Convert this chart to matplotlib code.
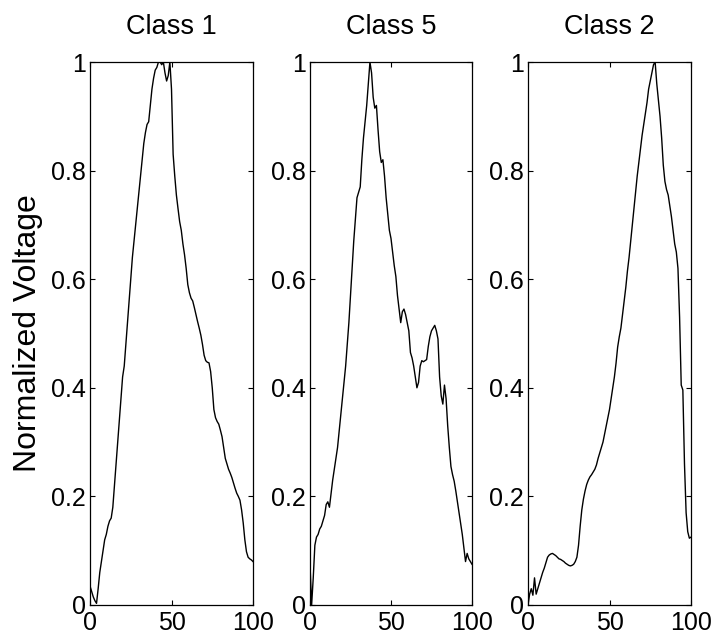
import matplotlib
matplotlib.use("Agg")
import matplotlib.pyplot as plt
from matplotlib import font_manager

# ---------------- data ----------------
x_idx = list(range(0, 101))

class1 = [0.035, 0.025, 0.015, 0.008, 0.003, 0.03, 0.06, 0.08, 0.10, 0.12,
          0.13, 0.145, 0.155, 0.16, 0.18, 0.22, 0.26, 0.30, 0.34, 0.38,
          0.42, 0.44, 0.48, 0.52, 0.56, 0.60, 0.64, 0.67, 0.70, 0.73,
          0.76, 0.79, 0.82, 0.85, 0.87, 0.885, 0.89, 0.92, 0.95, 0.97,
          0.985, 0.99, 1.0, 1.0, 0.995, 1.0, 0.98, 0.965, 0.975, 1.0,
          0.95, 0.83, 0.79, 0.755, 0.73, 0.706, 0.69, 0.665, 0.645, 0.62,
          0.59, 0.575, 0.565, 0.56, 0.548, 0.535, 0.522, 0.51, 0.497, 0.48,
          0.46, 0.45, 0.447, 0.446, 0.43, 0.40, 0.36, 0.345, 0.338, 0.333,
          0.322, 0.31, 0.29, 0.27, 0.26, 0.25, 0.243, 0.235, 0.225, 0.215,
          0.206, 0.20, 0.193, 0.175, 0.151, 0.12, 0.098, 0.088, 0.085, 0.083,
          0.08]

class5 = [0.075, 0.0, 0.05, 0.11, 0.125, 0.13, 0.14, 0.145, 0.155, 0.165,
          0.185, 0.19, 0.18, 0.205, 0.23, 0.25, 0.27, 0.29, 0.32, 0.35,
          0.38, 0.41, 0.44, 0.48, 0.52, 0.57, 0.62, 0.67, 0.71, 0.75,
          0.76, 0.77, 0.82, 0.86, 0.89, 0.92, 0.96, 1.0, 0.98, 0.935,
          0.915, 0.92, 0.875, 0.835, 0.815, 0.82, 0.79, 0.75, 0.72, 0.69,
          0.675, 0.65, 0.625, 0.605, 0.57, 0.545, 0.52, 0.54, 0.545, 0.535,
          0.52, 0.505, 0.465, 0.455, 0.44, 0.42, 0.40, 0.41, 0.44, 0.45,
          0.448, 0.45, 0.452, 0.476, 0.494, 0.505, 0.51, 0.515, 0.505, 0.49,
          0.42, 0.385, 0.37, 0.405, 0.38, 0.33, 0.29, 0.255, 0.24, 0.228,
          0.21, 0.19, 0.17, 0.15, 0.13, 0.105, 0.08, 0.095, 0.085, 0.08,
          0.075]

class2 = [0.0, 0.02, 0.03, 0.018, 0.05, 0.02, 0.03, 0.04, 0.05, 0.06,
          0.068, 0.078, 0.088, 0.092, 0.094, 0.095, 0.093, 0.091, 0.088, 0.085,
          0.084, 0.082, 0.08, 0.077, 0.075, 0.073, 0.072, 0.073, 0.075, 0.08,
          0.088, 0.11, 0.145, 0.175, 0.195, 0.21, 0.222, 0.23, 0.236, 0.24,
          0.245, 0.25, 0.258, 0.27, 0.28, 0.29, 0.30, 0.315, 0.33, 0.345,
          0.36, 0.38, 0.40, 0.42, 0.445, 0.475, 0.494, 0.51, 0.535, 0.56,
          0.585, 0.615, 0.64, 0.67, 0.70, 0.73, 0.76, 0.79, 0.815, 0.84,
          0.865, 0.885, 0.905, 0.925, 0.95, 0.965, 0.98, 0.995, 1.0, 0.96,
          0.93, 0.90, 0.86, 0.81, 0.78, 0.765, 0.755, 0.735, 0.715, 0.69,
          0.665, 0.65, 0.62, 0.53, 0.405, 0.396, 0.26, 0.17, 0.135, 0.123,
          0.125]

titles = ["Class 1", "Class 5", "Class 2"]
series = [class1, class5, class2]
xticks = [0, 50, 100]
xticklabels = ["0", "50", "100"]
yticks = [0, 0.2, 0.4, 0.6, 0.8, 1]
yticklabels = ["0", "0.2", "0.4", "0.6", "0.8", "1"]
ylabel = "Normalized Voltage"

# ---------------- font ----------------
avail = {f.name for f in font_manager.fontManager.ttflist}
fam = None
for cand in ["Liberation Sans Narrow", "DejaVu Sans Condensed", "Liberation Sans", "DejaVu Sans"]:
    if cand in avail:
        fam = cand
        break
plt.rcParams['font.family'] = [fam, 'DejaVu Sans']

# ---------------- figure ----------------
W, H = 715, 644
fig = plt.figure(figsize=(W / 100, H / 100), dpi=100)
lefts = [90, 310, 528]
widths = [163, 162, 163]
top, bottom = 62, 605

for i in range(3):
    ax = fig.add_axes([lefts[i] / W, (H - bottom) / H, widths[i] / W, (bottom - top) / H])
    ax.plot(x_idx, series[i], color='black', linewidth=1.0)
    ax.set_xlim(0, 100)
    ax.set_ylim(0, 1)
    ax.set_xticks(xticks)
    ax.set_xticklabels(xticklabels)
    ax.set_yticks(yticks)
    ax.set_yticklabels(yticklabels)
    ax.tick_params(direction='in', top=True, right=True, length=3.5, width=0.8,
                   labelsize=18)
    ax.tick_params(axis='y', pad=3)
    ax.tick_params(axis='x', pad=4)
    for sp in ax.spines.values():
        sp.set_linewidth(0.9)
    ax.set_title(titles[i], fontsize=19.5, pad=20)
    if i == 0:
        ax.set_ylabel(ylabel, fontsize=23, labelpad=6)

fig.savefig("out.png", dpi=100)
